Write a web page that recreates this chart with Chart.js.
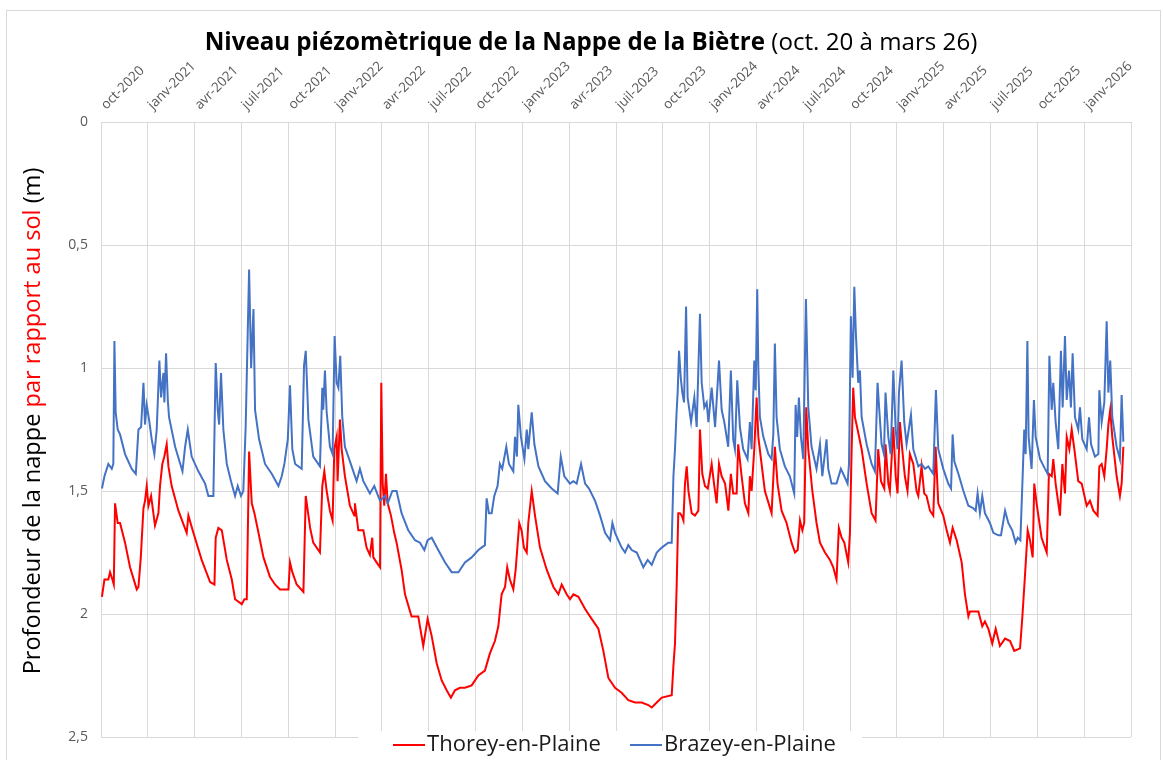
<!DOCTYPE html>
<html>
<head>
<meta charset="utf-8">
<script src="https://cdn.jsdelivr.net/npm/chart.js@4/dist/chart.umd.min.js"></script>
<style>
html,body{margin:0;padding:0;background:#fff;overflow:hidden;}
#wrap{position:relative;width:1163px;height:760px;}
#c{position:absolute;left:0;top:0;}
#frame{position:absolute;left:6px;top:10px;width:1153px;height:800px;border:1px solid #d9d9d9;pointer-events:none;}
</style>
</head>
<body>
<div id="wrap"><canvas id="c" width="1163" height="760"></canvas><div id="frame"></div></div>
<script>
// x = months since 1 Oct 2020, y = depth below ground (m)
const tickLabels = ['oct-2020','janv-2021','avr-2021','juil-2021','oct-2021','janv-2022','avr-2022','juil-2022','oct-2022','janv-2023','avr-2023','juil-2023','oct-2023','janv-2024','avr-2024','juil-2024','oct-2024','janv-2025','avr-2025','juil-2025','oct-2025','janv-2026'];
const seriesNames = ['Thorey-en-Plaine','Brazey-en-Plaine'];

const thorey = [
[0.06,1.93],[0.22,1.86],[0.47,1.86],[0.58,1.83],[0.73,1.86],[0.82,1.88],[0.90,1.55],[1.07,1.63],[1.22,1.63],[1.54,1.71],[1.86,1.81],[2.29,1.90],[2.40,1.89],[2.55,1.77],[2.72,1.57],[2.82,1.54],[2.93,1.48],[3.04,1.56],[3.21,1.52],[3.46,1.64],[3.68,1.59],[3.78,1.48],[3.93,1.39],[4.06,1.36],[4.21,1.31],[4.32,1.40],[4.53,1.48],[4.96,1.58],[5.49,1.67],[5.60,1.60],[5.92,1.67],[6.45,1.78],[6.99,1.87],[7.27,1.88],[7.35,1.69],[7.52,1.65],[7.74,1.66],[8.06,1.78],[8.38,1.86],[8.59,1.94],[9.02,1.96],[9.19,1.94],[9.34,1.94],[9.49,1.34],[9.66,1.55],[9.83,1.59],[10.09,1.67],[10.41,1.77],[10.83,1.85],[11.15,1.88],[11.47,1.90],[12.01,1.90],[12.11,1.79],[12.26,1.83],[12.54,1.88],[12.97,1.91],[13.12,1.52],[13.40,1.65],[13.60,1.71],[14.03,1.75],[14.18,1.48],[14.31,1.42],[14.46,1.50],[14.67,1.58],[14.84,1.62],[14.95,1.33],[15.10,1.28],[15.16,1.46],[15.25,1.31],[15.31,1.21],[15.42,1.33],[15.63,1.44],[15.95,1.56],[16.23,1.60],[16.27,1.55],[16.49,1.66],[16.81,1.66],[17.02,1.73],[17.23,1.76],[17.38,1.69],[17.45,1.77],[17.66,1.79],[17.88,1.81],[17.96,1.06],[18.05,1.47],[18.15,1.56],[18.26,1.43],[18.37,1.55],[18.58,1.60],[18.79,1.67],[18.94,1.71],[19.26,1.82],[19.48,1.92],[19.90,2.01],[20.33,2.01],[20.65,2.13],[20.93,2.02],[21.19,2.09],[21.51,2.20],[21.83,2.27],[22.15,2.31],[22.42,2.34],[22.68,2.31],[23.00,2.30],[23.32,2.30],[23.75,2.29],[24.18,2.25],[24.60,2.23],[24.92,2.16],[25.24,2.11],[25.46,2.05],[25.67,1.92],[25.89,1.89],[26.03,1.81],[26.20,1.86],[26.42,1.90],[26.57,1.82],[26.80,1.63],[26.95,1.66],[27.10,1.73],[27.28,1.75],[27.38,1.63],[27.60,1.50],[27.81,1.60],[28.13,1.73],[28.56,1.82],[28.99,1.89],[29.31,1.92],[29.52,1.88],[29.84,1.92],[30.05,1.94],[30.27,1.92],[30.59,1.93],[31.02,1.98],[31.44,2.02],[31.87,2.06],[32.19,2.15],[32.51,2.26],[32.94,2.30],[33.36,2.32],[33.79,2.35],[34.22,2.36],[34.65,2.36],[35.07,2.37],[35.29,2.38],[35.61,2.36],[35.93,2.34],[36.57,2.33],[36.68,2.21],[36.78,2.12],[36.89,1.88],[36.99,1.59],[37.10,1.59],[37.21,1.60],[37.32,1.62],[37.42,1.47],[37.53,1.40],[37.64,1.50],[37.85,1.59],[38.06,1.60],[38.28,1.58],[38.38,1.25],[38.53,1.43],[38.70,1.48],[38.88,1.49],[39.13,1.39],[39.30,1.48],[39.45,1.55],[39.60,1.39],[39.77,1.44],[39.99,1.47],[40.20,1.58],[40.36,1.43],[40.51,1.51],[40.73,1.51],[40.83,1.31],[41.05,1.44],[41.26,1.55],[41.48,1.59],[41.58,1.44],[41.69,1.50],[41.86,1.33],[42.01,1.12],[42.12,1.28],[42.29,1.37],[42.54,1.50],[42.97,1.59],[43.18,1.32],[43.35,1.47],[43.61,1.58],[43.93,1.63],[44.25,1.71],[44.47,1.75],[44.64,1.74],[44.79,1.62],[44.94,1.66],[45.06,1.63],[45.19,1.16],[45.32,1.33],[45.58,1.50],[45.85,1.63],[46.07,1.71],[46.39,1.75],[46.71,1.78],[46.92,1.81],[47.13,1.86],[47.28,1.65],[47.46,1.69],[47.63,1.71],[47.88,1.79],[47.99,1.67],[48.10,1.33],[48.20,1.08],[48.31,1.20],[48.48,1.25],[48.74,1.33],[49.06,1.47],[49.38,1.59],[49.63,1.62],[49.80,1.33],[49.98,1.46],[50.19,1.49],[50.27,1.31],[50.45,1.47],[50.55,1.50],[50.77,1.24],[50.92,1.44],[51.04,1.51],[51.19,1.22],[51.34,1.33],[51.51,1.44],[51.68,1.50],[51.83,1.35],[52.05,1.39],[52.26,1.50],[52.37,1.52],[52.58,1.40],[52.75,1.51],[52.90,1.52],[53.12,1.58],[53.33,1.60],[53.48,1.32],[53.65,1.55],[53.97,1.60],[54.19,1.66],[54.40,1.71],[54.57,1.65],[54.83,1.70],[55.15,1.79],[55.36,1.92],[55.58,2.01],[55.68,1.99],[56.22,1.99],[56.47,2.05],[56.64,2.03],[56.86,2.06],[57.11,2.12],[57.33,2.06],[57.60,2.13],[57.93,2.10],[58.25,2.11],[58.52,2.15],[58.89,2.14],[59.04,2.01],[59.21,1.84],[59.38,1.66],[59.53,1.70],[59.70,1.77],[59.80,1.47],[59.95,1.55],[60.27,1.69],[60.60,1.75],[60.74,1.43],[60.92,1.44],[61.02,1.37],[61.17,1.47],[61.45,1.60],[61.60,1.39],[61.77,1.51],[61.88,1.28],[62.05,1.33],[62.20,1.25],[62.37,1.33],[62.62,1.46],[62.84,1.47],[63.16,1.56],[63.37,1.54],[63.59,1.58],[63.86,1.60],[63.97,1.40],[64.12,1.39],[64.29,1.44],[64.44,1.33],[64.55,1.23],[64.67,1.17],[64.80,1.28],[65.08,1.44],[65.29,1.52],[65.40,1.47],[65.51,1.32]
];

const brazey = [
[0.06,1.49],[0.22,1.44],[0.47,1.39],[0.69,1.41],[0.79,1.39],[0.86,0.89],[0.94,1.18],[1.07,1.25],[1.22,1.27],[1.54,1.35],[1.97,1.41],[2.23,1.43],[2.40,1.25],[2.57,1.24],[2.72,1.06],[2.82,1.23],[2.93,1.15],[3.08,1.21],[3.25,1.29],[3.42,1.35],[3.57,1.25],[3.74,0.97],[3.85,1.12],[4.00,1.02],[4.06,1.14],[4.17,0.94],[4.28,1.13],[4.36,1.20],[4.75,1.32],[5.22,1.42],[5.39,1.32],[5.56,1.25],[5.81,1.36],[6.24,1.42],[6.67,1.47],[6.88,1.52],[7.20,1.52],[7.35,0.98],[7.48,1.17],[7.57,1.23],[7.69,1.02],[7.84,1.25],[8.06,1.39],[8.33,1.46],[8.59,1.52],[8.76,1.48],[8.97,1.52],[9.12,1.50],[9.27,1.24],[9.49,0.60],[9.62,1.00],[9.77,0.76],[9.87,1.17],[10.13,1.29],[10.51,1.39],[10.94,1.43],[11.37,1.48],[11.58,1.44],[11.75,1.39],[11.97,1.29],[12.11,1.07],[12.26,1.33],[12.44,1.39],[12.86,1.41],[13.01,0.99],[13.12,0.93],[13.29,1.21],[13.60,1.36],[14.03,1.40],[14.18,1.08],[14.24,1.17],[14.35,1.01],[14.46,1.18],[14.67,1.32],[14.84,1.35],[14.97,0.87],[15.10,1.06],[15.21,1.08],[15.33,0.95],[15.46,1.20],[15.63,1.32],[16.06,1.40],[16.38,1.46],[16.59,1.41],[16.81,1.46],[17.23,1.51],[17.51,1.48],[17.88,1.54],[18.20,1.52],[18.37,1.55],[18.67,1.50],[18.94,1.50],[19.26,1.59],[19.69,1.66],[20.12,1.70],[20.44,1.71],[20.72,1.74],[20.93,1.70],[21.19,1.69],[21.61,1.74],[22.04,1.79],[22.47,1.83],[22.90,1.83],[23.32,1.79],[23.75,1.77],[24.18,1.74],[24.60,1.72],[24.71,1.53],[24.86,1.59],[25.03,1.59],[25.20,1.52],[25.41,1.48],[25.56,1.39],[25.71,1.41],[25.97,1.32],[26.14,1.39],[26.42,1.42],[26.53,1.28],[26.65,1.36],[26.74,1.15],[26.91,1.28],[27.13,1.37],[27.28,1.25],[27.38,1.33],[27.60,1.18],[27.77,1.31],[28.03,1.40],[28.45,1.46],[28.88,1.49],[29.26,1.51],[29.46,1.36],[29.69,1.44],[30.05,1.47],[30.27,1.46],[30.48,1.47],[30.76,1.39],[31.02,1.47],[31.27,1.49],[31.66,1.54],[31.98,1.60],[32.30,1.67],[32.62,1.70],[32.77,1.63],[32.94,1.67],[33.36,1.73],[33.58,1.75],[33.79,1.72],[34.01,1.74],[34.33,1.75],[34.54,1.78],[34.75,1.81],[35.03,1.78],[35.29,1.80],[35.61,1.75],[35.93,1.73],[36.35,1.71],[36.57,1.71],[36.68,1.44],[36.78,1.33],[36.89,1.17],[36.95,1.10],[37.04,0.93],[37.15,1.04],[37.25,1.10],[37.36,1.14],[37.49,0.75],[37.59,1.12],[37.81,1.22],[38.02,1.12],[38.17,1.24],[38.38,0.78],[38.49,1.06],[38.66,1.16],[38.81,1.14],[38.92,1.22],[39.13,1.08],[39.35,1.24],[39.60,0.97],[39.77,1.17],[39.94,1.22],[40.19,1.32],[40.36,1.01],[40.51,1.29],[40.62,1.33],[40.77,1.05],[40.94,1.24],[41.15,1.33],[41.43,1.37],[41.58,1.22],[41.69,1.33],[41.86,0.97],[41.95,1.09],[42.05,0.68],[42.12,1.00],[42.22,1.20],[42.44,1.28],[42.76,1.35],[42.97,1.37],[43.08,1.27],[43.18,0.90],[43.29,1.20],[43.50,1.33],[43.82,1.40],[44.14,1.44],[44.42,1.51],[44.51,1.15],[44.61,1.28],[44.72,1.12],[44.85,1.28],[45.00,1.37],[45.17,0.72],[45.32,1.16],[45.53,1.32],[45.85,1.41],[46.07,1.31],[46.22,1.44],[46.49,1.29],[46.60,1.41],[46.81,1.47],[47.13,1.47],[47.41,1.41],[47.63,1.44],[47.84,1.47],[47.93,1.39],[48.05,0.79],[48.16,1.04],[48.27,0.67],[48.37,0.86],[48.52,1.06],[48.63,1.01],[48.74,1.20],[49.06,1.31],[49.38,1.39],[49.59,1.42],[49.76,1.06],[49.87,1.17],[50.02,1.31],[50.17,1.35],[50.27,1.10],[50.45,1.28],[50.60,1.35],[50.77,1.01],[50.92,1.25],[51.04,1.33],[51.13,1.10],[51.30,0.97],[51.47,1.22],[51.62,1.31],[51.90,1.19],[52.05,1.33],[52.37,1.40],[52.58,1.39],[52.80,1.41],[53.01,1.40],[53.33,1.43],[53.50,1.09],[53.65,1.33],[53.97,1.41],[54.29,1.47],[54.47,1.49],[54.57,1.27],[54.68,1.38],[54.94,1.43],[55.26,1.50],[55.58,1.56],[55.90,1.57],[56.05,1.58],[56.17,1.51],[56.32,1.59],[56.47,1.52],[56.64,1.59],[56.96,1.63],[57.18,1.67],[57.50,1.68],[57.67,1.68],[57.93,1.58],[58.14,1.63],[58.39,1.66],[58.61,1.71],[58.74,1.69],[58.91,1.70],[59.04,1.47],[59.16,1.25],[59.25,1.35],[59.36,0.89],[59.44,1.28],[59.63,1.41],[59.78,1.13],[59.89,1.28],[60.17,1.37],[60.49,1.41],[60.66,1.43],[60.77,0.95],[60.92,1.17],[61.02,1.06],[61.17,1.22],[61.34,1.33],[61.51,0.93],[61.62,1.16],[61.77,0.87],[61.88,1.13],[62.03,1.01],[62.15,1.16],[62.26,0.94],[62.41,1.20],[62.62,1.25],[62.73,1.16],[62.88,1.29],[63.16,1.33],[63.31,1.20],[63.44,1.31],[63.69,1.36],[63.91,1.35],[63.97,1.09],[64.12,1.22],[64.29,1.14],[64.44,0.81],[64.55,1.10],[64.67,0.97],[64.80,1.20],[65.08,1.32],[65.29,1.37],[65.40,1.11],[65.51,1.30]
];

const FONT = "'Open Sans', 'Noto Sans', sans-serif";

function fitSize(ctx, parts, target, base) {
  let w = 0;
  parts.forEach(p => { ctx.font = (p.bold ? 'bold ' : '') + base + 'px ' + FONT; w += ctx.measureText(p.t).width; });
  return base * target / w;
}
function drawParts(ctx, parts, size, cx, cy) {
  let widths = parts.map(p => { ctx.font = (p.bold ? 'bold ' : '') + size + 'px ' + FONT; return ctx.measureText(p.t).width; });
  let total = widths.reduce((a, b) => a + b, 0);
  let x = cx - total / 2;
  ctx.textAlign = 'left';
  ctx.textBaseline = 'middle';
  parts.forEach((p, i) => {
    ctx.font = (p.bold ? 'bold ' : '') + size + 'px ' + FONT;
    ctx.fillStyle = p.color || '#000';
    ctx.fillText(p.t, x, cy);
    x += widths[i];
  });
}

const decor = {
  id: 'decor',
  afterDraw(chart) {
    const ctx = chart.ctx;
    ctx.save();
    // title
    const tParts = [{t: 'Niveau piézomètrique de la Nappe de la Biètre', bold: true}, {t: ' (oct. 20 à mars 26)'}];
    const ts = fitSize(ctx, tParts, 773, 22);
    drawParts(ctx, tParts, ts, 591, 43);
    // y axis title
    const yParts = [{t: 'Profondeur de la nappe '}, {t: 'par rapport au sol', color: '#ff0000'}, {t: ' (m)'}];
    const ys = fitSize(ctx, yParts, 507, 20);
    ctx.save();
    ctx.translate(33, 421);
    ctx.rotate(-Math.PI / 2);
    drawParts(ctx, yParts, ys, 0, 0);
    ctx.restore();
    // legend
    const ls = fitSize(ctx, [{t: seriesNames[0]}], 174, 20);
    ctx.fillStyle = '#fff';
    ctx.fillRect(358, 731, 504, 29);
    const items = [{x: 393, text: seriesNames[0], color: chart.data.datasets[0].borderColor},
                   {x: 630, text: seriesNames[1], color: chart.data.datasets[1].borderColor}];
    items.forEach(it => {
      ctx.strokeStyle = it.color;
      ctx.lineWidth = 2;
      ctx.beginPath();
      ctx.moveTo(it.x, 745);
      ctx.lineTo(it.x + 32, 745);
      ctx.stroke();
      ctx.font = ls + 'px ' + FONT;
      ctx.fillStyle = '#1a1a1a';
      ctx.textAlign = 'left';
      ctx.textBaseline = 'middle';
      ctx.fillText(it.text, it.x + 34, 745);
    });
    ctx.restore();
  }
};

const toXY = arr => arr.map(p => ({x: p[0], y: p[1]}));

new Chart(document.getElementById('c'), {
  type: 'line',
  data: {
    datasets: [
      {label: seriesNames[0], data: toXY(thorey), borderColor: '#ff0000', borderWidth: 2, pointRadius: 0, tension: 0, order: 1},
      {label: seriesNames[1], data: toXY(brazey), borderColor: '#4472c4', borderWidth: 2, pointRadius: 0, tension: 0, order: 0}
    ]
  },
  options: {
    responsive: false,
    animation: false,
    devicePixelRatio: 1,
    layout: {padding: {left: 0, top: 0, right: 32, bottom: 23}},
    plugins: {legend: {display: false}, title: {display: false}, tooltip: {enabled: false}},
    scales: {
      x: {
        type: 'linear', position: 'top', min: 0, max: 66,
        afterFit: s => { s.height = 122; },
        grid: {color: '#d9d9d9', drawTicks: false},
        border: {display: false},
        ticks: {
          stepSize: 3, autoSkip: false, maxRotation: 45, minRotation: 45, padding: 9, labelOffset: 14,
          color: '#595959', font: {family: FONT, size: 13.5},
          callback: v => tickLabels[Math.round(v / 3)] || ''
        }
      },
      y: {
        reverse: true, min: 0, max: 2.5,
        afterFit: s => { s.width = 101; },
        grid: {color: '#d9d9d9', drawTicks: false},
        border: {display: false},
        ticks: {
          stepSize: 0.5, padding: 13, color: '#595959', font: {family: FONT, size: 14},
          callback: v => String(v).replace('.', ',')
        }
      }
    }
  },
  plugins: [decor]
});
</script>
</body>
</html>
